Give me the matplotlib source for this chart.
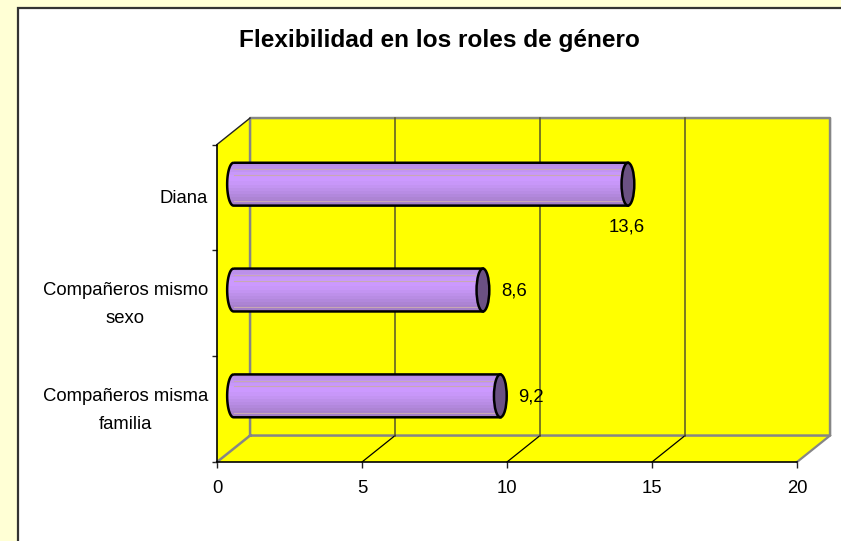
import numpy as np
import matplotlib
matplotlib.use("Agg")
import matplotlib.pyplot as plt
from matplotlib.patches import Rectangle, Ellipse, PathPatch, Polygon
from matplotlib.path import Path
from matplotlib.colors import ListedColormap
from matplotlib.transforms import ScaledTranslation

plt.rcParams['font.family'] = ['Liberation Sans', 'DejaVu Sans']

# ============================================================
# DATA
# ============================================================

categories = ['Compañeros misma\nfamilia', 'Compañeros mismo\nsexo', 'Diana']
values     = [9.2, 8.6, 13.6]
labels     = ['9,2', '8,6', '13,6']
x_ticks    = [0, 5, 10, 15, 20]
title      = 'Flexibilidad en los roles de género'

# ============================================================
# LAYOUT (pixels of the 841x541 figure)
# ============================================================

W, H = 841, 541
x0_px, x1_px = 217, 797
y_bot, y_top = 462, 144.5
depth_x = 1.14   # depth offset, x data units
depth_y = 0.25   # depth offset, category units
bar_h   = 0.405
cap_w   = 0.22   # half width of the cylinder end, x data units

fig = plt.figure(figsize=(W / 100, H / 100), dpi=100, facecolor='#FFFFD5')

# white chart area behind everything
bg = fig.add_axes([0, 0, 1, 1], zorder=0)
bg.set_xlim(0, W)
bg.set_ylim(H, 0)
bg.axis('off')
bg.add_patch(Rectangle((18.5, 7.5), 840, 600, facecolor='white', edgecolor='#333333', linewidth=1.6))
bg.text(439, 40, title, fontsize=17.6, fontweight='bold', ha='center', va='center', color='black')

ax = fig.add_axes([x0_px / W, 1 - y_bot / H, (x1_px - x0_px) / W, (y_bot - y_top) / H], zorder=1)
ax.patch.set_alpha(0)
ax.set_xlim(0, 20)
ax.set_ylim(0, 3)
for s in ax.spines.values():
    s.set_visible(False)

# ============================================================
# 3D WALLS
# ============================================================

yellow = '#FFFF00'
gray   = '#868686'
ax.add_patch(Polygon([(0, 0), (20, 0), (20 + depth_x, depth_y), (20 + depth_x, 3 + depth_y),
                      (depth_x, 3 + depth_y), (0, 3)], closed=True, facecolor=yellow,
                     edgecolor='none', clip_on=False, zorder=1))
ax.plot([0, depth_x, 20 + depth_x, 20 + depth_x, depth_x, depth_x],
        [0, depth_y, depth_y, 3 + depth_y, 3 + depth_y, depth_y],
        color=gray, linewidth=1.8, clip_on=False, zorder=2)
ax.plot([20, 20 + depth_x], [0, depth_y], color=gray, linewidth=1.6, clip_on=False, zorder=2)
ax.plot([0, depth_x], [3, 3 + depth_y], color='#222222', linewidth=1, clip_on=False, zorder=2)

for t in x_ticks[1:-1]:
    ax.plot([t, t + depth_x], [0, depth_y], color='black', linewidth=0.9, clip_on=False, zorder=2)
    ax.plot([t + depth_x, t + depth_x], [depth_y, 3 + depth_y], color='#55552a', linewidth=1.1,
            clip_on=False, zorder=2)

# front axes lines
ax.plot([0, 20], [0, 0], color='black', linewidth=1.2, clip_on=False, zorder=3)
ax.plot([0, 0], [0, 3], color='black', linewidth=1.2, clip_on=False, zorder=3)

# ============================================================
# CYLINDER BARS
# ============================================================

# bottom to top of the cylinder
band_colors = ['#A37EC8', '#A880CE', '#AD84D4', '#B288DC', '#B88CE4', '#BD90EA', '#C394F2', '#C897F9',
               '#CC99FF', '#CC99FF', '#C898FA', '#C294F2', '#BC90EA', '#B78DE4']
cmap = ListedColormap(band_colors)
grad = np.arange(len(band_colors)).reshape(-1, 1)

for i, v in enumerate(values):
    xc = depth_x / 2
    yc = i + 0.5 + depth_y / 2
    low, high = yc - bar_h / 2, yc + bar_h / 2
    xe = v + xc

    t = np.linspace(np.pi / 2, 3 * np.pi / 2, 30)
    left = np.column_stack([xc + cap_w * np.cos(t), yc + bar_h / 2 * np.sin(t)])
    verts = np.vstack([left, [[xe, low], [xe, high], [xc, high]]])
    im = ax.imshow(grad, extent=(xc - cap_w, xe, low, high), origin='lower', cmap=cmap,
                   aspect='auto', zorder=4, interpolation='nearest')
    im.set_clip_path(PathPatch(Path(verts), transform=ax.transData))
    ax.add_patch(PathPatch(Path(verts), facecolor='none', edgecolor='black',
                           linewidth=1.8, clip_on=False, zorder=5))

    # highlight streaks
    for off in (0.1, 0.72, 0.85):
        ax.plot([xc, xe], [low + off * bar_h] * 2, color='#C8A8B4', linewidth=0.8, zorder=5)

    ax.add_patch(Ellipse((xe, yc), 2 * cap_w, bar_h, facecolor='#6B5183', edgecolor='black',
                         linewidth=1.8, clip_on=False, zorder=6))

ax.set_xlim(0, 20)
ax.set_ylim(0, 3)

# data labels
for i, (v, lab) in enumerate(zip(values, labels)):
    xy = (v + depth_x / 2, i + 0.5 + depth_y / 2)
    offset = (31, -1) if i < 2 else (-1, -43)
    ax.annotate(lab, xy, xytext=offset, textcoords='offset pixels', fontsize=13.3,
                ha='center', va='center', zorder=7)

# ============================================================
# TICKS
# ============================================================

ax.set_xticks(x_ticks)
ax.set_xticklabels([str(t) for t in x_ticks], fontsize=13.3)
ax.set_yticks([0, 1, 2, 3])
ax.set_yticklabels([])
ax.set_yticks([0.5, 1.5, 2.5], minor=True)
ax.set_yticklabels(categories, minor=True, fontsize=13.3, ha='right', multialignment='center',
                   linespacing=1.84)
ax.tick_params(axis='x', length=4.3, width=1, pad=9, color='#222222')
ax.tick_params(axis='y', which='major', length=3.6, width=1, color='#222222')
ax.tick_params(axis='y', which='minor', length=0, pad=6.5)

# nudge the two-line labels up, one-line label stays
for lab, dy in zip(ax.get_yticklabels(minor=True), [6, 6, 1]):
    lab.set_transform(lab.get_transform() + ScaledTranslation(0, dy / 100, fig.dpi_scale_trans))

plt.savefig('out.png', dpi=100, facecolor=fig.get_facecolor())
